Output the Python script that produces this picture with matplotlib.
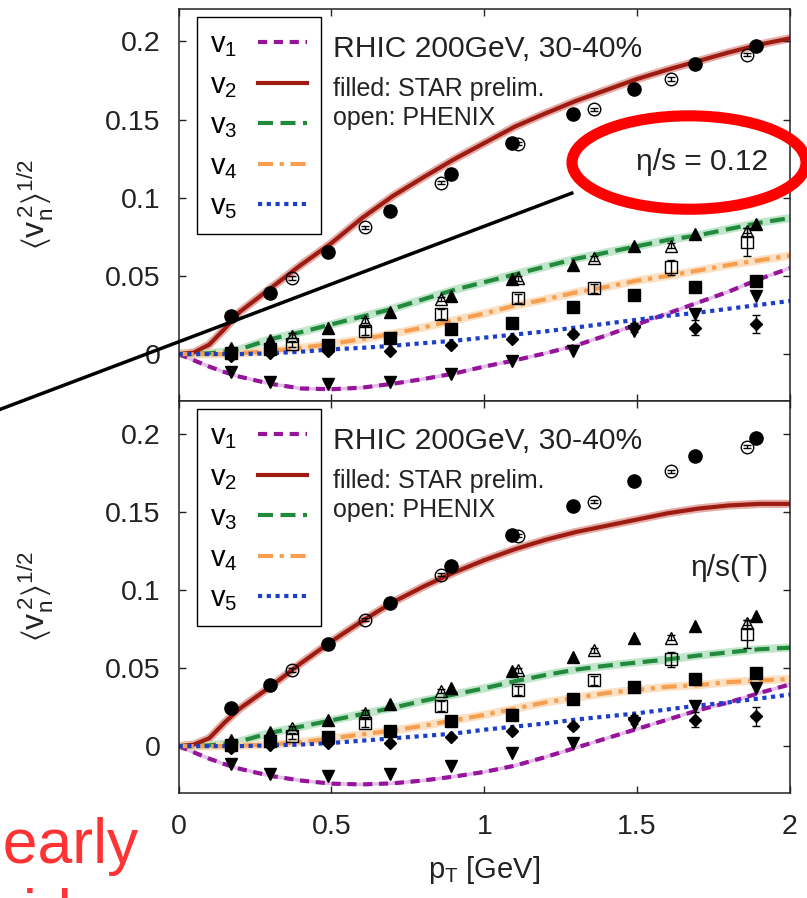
import matplotlib.pyplot as plt
from matplotlib.patches import Ellipse
from matplotlib.lines import Line2D

plt.rcParams['font.family'] = ['Liberation Sans', 'DejaVu Sans']
plt.rcParams['mathtext.fontset'] = 'custom'
plt.rcParams['mathtext.rm'] = 'Liberation Sans'
plt.rcParams['mathtext.it'] = 'Liberation Sans:italic'
plt.rcParams['mathtext.default'] = 'regular'

# hydro curves, pT grid
pt = [0, 0.05, 0.1, 0.15, 0.2, 0.3, 0.4, 0.5, 0.6, 0.7, 0.8, 0.9, 1.0,
      1.1, 1.2, 1.3, 1.4, 1.5, 1.6, 1.7, 1.8, 1.9, 2.0]

# eta/s = 0.12
top_v1 = [0, -0.004, -0.008, -0.0115, -0.0145, -0.019, -0.022, -0.0225, -0.0215, -0.019, -0.016, -0.0125,
          -0.008, -0.004, 0.0005, 0.0055, 0.012, 0.019, 0.026, 0.033, 0.040, 0.048, 0.055]
top_v2 = [0, 0.001, 0.006, 0.016, 0.027, 0.042, 0.057, 0.071, 0.087, 0.101, 0.113, 0.1245,
          0.135, 0.1455, 0.154, 0.162, 0.169, 0.176, 0.182, 0.1875, 0.193, 0.198, 0.202]
top_v3 = [0, 0, 0.0005, 0.0015, 0.003, 0.0095, 0.014, 0.019, 0.024, 0.029, 0.035, 0.041,
          0.046, 0.051, 0.056, 0.061, 0.065, 0.069, 0.073, 0.076, 0.080, 0.084, 0.087]
top_v4 = [0, 0, 0, 0, 0.0005, 0.002, 0.004, 0.0065, 0.0095, 0.013, 0.017, 0.0215,
          0.026, 0.031, 0.035, 0.0395, 0.043, 0.047, 0.050, 0.0535, 0.057, 0.060, 0.063]
top_v5 = [0, 0, 0, 0, 0, 0.0005, 0.0015, 0.003, 0.004, 0.0053, 0.007, 0.0085,
          0.0105, 0.0125, 0.0145, 0.017, 0.0195, 0.022, 0.0245, 0.0265, 0.029, 0.0315, 0.034]

# eta/s(T)
bot_v1 = [0, -0.004, -0.008, -0.0115, -0.0145, -0.019, -0.022, -0.024, -0.0245, -0.0238, -0.022, -0.0195,
          -0.0165, -0.0125, -0.007, -0.001, 0.005, 0.011, 0.017, 0.023, 0.028, 0.034, 0.0395]
bot_v2 = [0, 0.001, 0.005, 0.015, 0.024, 0.038, 0.053, 0.067, 0.080, 0.092, 0.102, 0.111,
          0.119, 0.126, 0.132, 0.137, 0.141, 0.145, 0.149, 0.152, 0.154, 0.155, 0.155]
bot_v3 = [0, 0, 0.0005, 0.0015, 0.003, 0.0085, 0.0125, 0.0165, 0.0205, 0.0245, 0.029, 0.033,
          0.037, 0.0415, 0.0455, 0.049, 0.0515, 0.0535, 0.0555, 0.058, 0.060, 0.062, 0.063]
bot_v4 = [0, 0, 0, 0, 0.0003, 0.001, 0.0025, 0.005, 0.0075, 0.010, 0.013, 0.0165,
          0.020, 0.024, 0.028, 0.031, 0.034, 0.036, 0.038, 0.039, 0.041, 0.042, 0.043]
bot_v5 = [0, 0, 0, 0, 0, 0.0005, 0.001, 0.002, 0.0035, 0.005, 0.0065, 0.008,
          0.0105, 0.0125, 0.0145, 0.017, 0.019, 0.021, 0.0235, 0.026, 0.028, 0.0305, 0.033]

# STAR prelim. (filled)
star_pt = [0.17, 0.30, 0.49, 0.69, 0.89, 1.09, 1.29, 1.49, 1.69, 1.89]
star_v1 = [-0.0113, -0.0181, -0.0192, -0.018, -0.0128, -0.0045, 0.002, 0.015, 0.0256, 0.037]
star_v2 = [0.0246, 0.0389, 0.0656, 0.0915, 0.115, 0.135, 0.1537, 0.1697, 0.1856, 0.1969]
star_v3 = [0.004, 0.009, 0.017, 0.027, 0.037, 0.048, 0.057, 0.069, 0.077, 0.083]
star_v4 = [0.001, 0.003, 0.006, 0.010, 0.016, 0.020, 0.030, 0.038, 0.043, 0.047]
star_v5 = [-0.001, 0.001, 0.002, 0.002, 0.0058, 0.0096, 0.0128, 0.0171, 0.017, 0.0192]
star_v5_err = [0.001, 0.001, 0.001, 0.001, 0.001, 0.0015, 0.002, 0.003, 0.005, 0.006]

# PHENIX (open)
phx_pt = [0.37, 0.61, 0.86, 1.11, 1.36, 1.61, 1.86]
phx_v2 = [0.0487, 0.081, 0.1096, 0.1347, 0.1565, 0.176, 0.1916]
phx_v3 = [0.0117, 0.0214, 0.0352, 0.0485, 0.0613, 0.0694, 0.079]
phx_v4 = [0.0064, 0.015, 0.0256, 0.0357, 0.042, 0.0555, 0.0716]
phx_v4_err = [0.002, 0.003, 0.003, 0.003, 0.003, 0.005, 0.009]

labels = ['$v_1$', '$v_2$', '$v_3$', '$v_4$', '$v_5$']
colors = ['#94149a', '#9e1b12', '#218a3c', '#f59f4f', '#1c3ec8']
bands = ['#d9a2df', '#d98a82', '#a9dcb6', '#fbd4ab', None]
dashes = [(2.2, 1.6), None, (3.6, 1.8), (3.6, 1.6, 1, 1.6), (1, 1.1)]


def draw_panel(ax, curves, note, note_y):
    handles = []
    for y, lab, c, b, d in zip(curves, labels, colors, bands, dashes):
        if b is not None:
            ax.plot(pt, y, color=b, lw=6 if lab != '$v_1$' else 2.5, alpha=0.7, zorder=1)
        if d is None:
            h, = ax.plot(pt, y, color=c, lw=3, label=lab, zorder=2)
        else:
            h, = ax.plot(pt, y, color=c, lw=3, dashes=d, dash_capstyle='butt', label=lab, zorder=2)
        handles.append(h)

    # STAR filled symbols
    ax.plot(star_pt, star_v2, 'o', color='black', ms=9.5, zorder=4)
    ax.plot(star_pt, star_v3, '^', color='black', ms=9, zorder=4)
    ax.plot(star_pt, star_v4, 's', color='black', ms=8.5, zorder=4)
    ax.errorbar(star_pt, star_v5, yerr=star_v5_err, fmt='D', color='black', ms=6.5,
                capsize=3, elinewidth=1, zorder=4)
    ax.plot(star_pt, star_v1, 'v', color='black', ms=9, zorder=4)

    # PHENIX open symbols
    ax.errorbar(phx_pt, phx_v2, yerr=0.001, fmt='o', mfc='none', mec='black', ecolor='black',
                ms=9, mew=1, capsize=3, elinewidth=1, zorder=4)
    ax.errorbar(phx_pt, phx_v3, yerr=0.0015, fmt='^', mfc='none', mec='black', ecolor='black',
                ms=9, mew=1, capsize=3, elinewidth=1, zorder=4)
    ax.errorbar(phx_pt, phx_v4, yerr=phx_v4_err, fmt='s', mfc='none', mec='black', ecolor='black',
                ms=9, mew=1, capsize=3, elinewidth=1, zorder=4)

    ax.set_xlim(0, 2)
    ax.set_ylim(-0.0300, 0.2208)
    ax.set_xticks([0, 0.5, 1, 1.5, 2])
    ax.set_xticklabels(['0', '0.5', '1', '1.5', '2'])
    ax.set_yticks([0, 0.05, 0.1, 0.15, 0.2])
    ax.set_yticklabels(['0', '0.05', '0.1', '0.15', '0.2'])
    ax.tick_params(direction='in', length=5, width=1, top=True, right=True,
                   labelsize=20.5, colors='#222222')
    ax.tick_params(axis='y', pad=13)
    ax.tick_params(axis='x', pad=15)
    for s in ax.spines.values():
        s.set_linewidth(1.1)
        s.set_color('#222222')

    ax.set_ylabel(r'$\langle v_n^{\,2}\rangle^{1/2}$', fontsize=23, color='#222222')
    ax.yaxis.set_label_coords(-0.20, 0.5)

    leg = ax.legend(handles=handles, loc='upper left', bbox_to_anchor=(0.0296, 0.979),
                    borderaxespad=0, fancybox=False, edgecolor='black', framealpha=1,
                    markerfirst=False, fontsize=21, handlelength=1.7, handletextpad=0.7,
                    labelspacing=0.4, borderpad=0.45)
    leg.get_frame().set_linewidth(1.0)

    ax.text(0.252, 0.898, 'RHIC 200GeV, 30-40%', transform=ax.transAxes,
            fontsize=21.6, va='center', color='#222222')
    ax.text(0.252, 0.795, 'filled: STAR prelim.', transform=ax.transAxes,
            fontsize=18, va='center', color='#222222')
    ax.text(0.252, 0.721, 'open: PHENIX', transform=ax.transAxes,
            fontsize=18, va='center', color='#222222')
    ax.text(0.965, note_y, note, transform=ax.transAxes, ha='right', va='center',
            fontsize=21.5, color='#222222')


fig = plt.figure(figsize=(8.07, 8.98), dpi=100)
ax_top = fig.add_axes([0.2213, 0.5535, 0.7576, 0.4365])
ax_bot = fig.add_axes([0.2213, 0.1169, 0.7576, 0.4365])

draw_panel(ax_top, [top_v1, top_v2, top_v3, top_v4, top_v5], 'η/s = 0.12', 0.61)
draw_panel(ax_bot, [bot_v1, bot_v2, bot_v3, bot_v4, bot_v5], 'η/s(T)', 0.574)
ax_top.tick_params(labelbottom=False)

ax_bot.set_xlabel('$p_T$ [GeV]', fontsize=21, color='#222222')
ax_bot.xaxis.set_label_coords(0.5, -0.155)

# slide annotations on top of the figure
fig.add_artist(Line2D([0, 0.7085], [0.5441, 0.7849], transform=fig.transFigure,
                      color='black', lw=2.5, zorder=10))
fig.add_artist(Ellipse((0.8538, 0.819), 0.290, 0.1040, transform=fig.transFigure,
                       fill=False, edgecolor='#ff0000', lw=8, zorder=11))
fig.text(-0.0384, 0.0386, 'nearly', color='#ff3333', fontsize=45, va='baseline', ha='left')
fig.text(-0.0533, -0.040, 'fluid', color='#ff3333', fontsize=45, va='baseline', ha='left')

fig.savefig('out.png', dpi=100)
